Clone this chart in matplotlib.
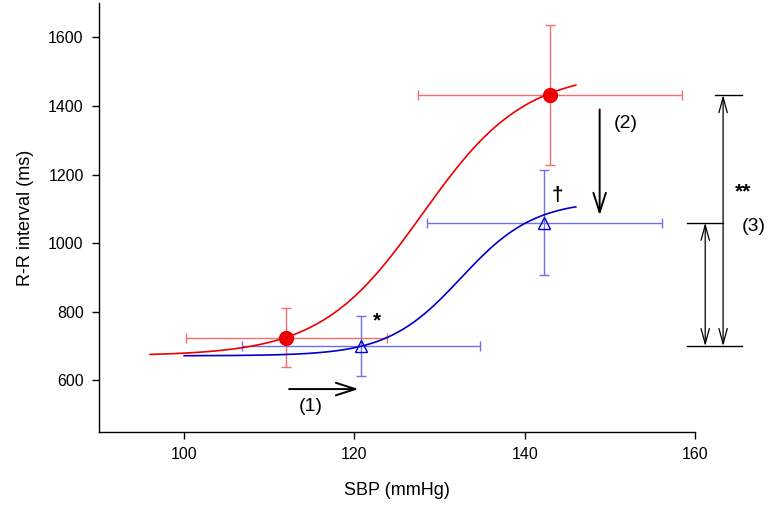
import numpy as np
import matplotlib
matplotlib.use("Agg")
import matplotlib.pyplot as plt
from matplotlib.patches import FancyArrowPatch

plt.rcParams['font.family'] = ['Liberation Sans', 'DejaVu Sans']

# Data (mean +/- SD)
red_x = [112, 143]
red_y = [725, 1432]
red_xerr = [11.8, 15.5]
red_yerr = [86, 203]

blue_x = [120.8, 142.3]
blue_y = [700, 1060]
blue_xerr = [14.0, 13.8]
blue_yerr = [88, 153]

# fitted sigmoid parameters: (min, max, x50, slope, x range)
red_fit = dict(lo=672, hi=1500, x50=128.0, s=6.0, x0=96, x1=146)
blue_fit = dict(lo=672, hi=1125, x50=132.5, s=4.3, x0=100, x1=146)

xticks = [100, 120, 140, 160]
yticks = [600, 800, 1000, 1200, 1400, 1600]


def sigmoid(p):
    x = np.linspace(p['x0'], p['x1'], 300)
    y = p['lo'] + (p['hi'] - p['lo']) / (1 + np.exp(-(x - p['x50']) / p['s']))
    return x, y


fig = plt.figure(figsize=(7.7, 5.07), dpi=100)
ax = fig.add_axes([0.1286, 0.148, 0.7740, 0.846])

ax.set_xlim(90, 160)
ax.set_ylim(450, 1700)

red_c = '#ee0000'
blue_c = '#0000cc'
red_e = '#f07070'
blue_e = '#7070e8'

xr, yr = sigmoid(red_fit)
xb, yb = sigmoid(blue_fit)

ax.errorbar(red_x, red_y, xerr=red_xerr, yerr=red_yerr, fmt='none',
            ecolor=red_e, elinewidth=1.0, capsize=3.5, capthick=1.0, zorder=2)
ax.errorbar(blue_x, blue_y, xerr=blue_xerr, yerr=blue_yerr, fmt='none',
            ecolor=blue_e, elinewidth=1.0, capsize=3.5, capthick=1.0, zorder=2)
ax.plot(xr, yr, color=red_c, lw=1.2, zorder=3)
ax.plot(xb, yb, color=blue_c, lw=1.2, zorder=3)
ax.plot(red_x, red_y, 'o', color=red_c, ms=10, zorder=4)
ax.plot(blue_x, blue_y, '^', mfc='none', mec=blue_c, ms=9, mew=1.0, zorder=4)

ax.set_xticks(xticks)
ax.set_yticks(yticks)
ax.tick_params(direction='out', length=5, width=1, labelsize=11.5, pad=6)
for s in ['top', 'right']:
    ax.spines[s].set_visible(False)
for s in ['left', 'bottom']:
    ax.spines[s].set_linewidth(1.0)

ax.set_xlabel('SBP (mmHg)', fontsize=13, labelpad=14)
ax.set_ylabel('R-R interval (ms)', fontsize=13, labelpad=10)

# Annotation (1)
a1 = FancyArrowPatch((red_x[0], 575), (blue_x[0], 575),
                     arrowstyle='->,head_length=1.4,head_width=0.45',
                     mutation_scale=10, lw=1.4, color='black')
ax.add_patch(a1)
ax.text(114.9, 525, '(1)', fontsize=14, ha='center', va='center')

# Annotation (2)
a2 = FancyArrowPatch((148.8, 1398), (148.8, 1073),
                     arrowstyle='->,head_length=1.4,head_width=0.45',
                     mutation_scale=10, lw=1.4, color='black')
ax.add_patch(a2)
ax.text(151.9, 1349, '(2)', fontsize=14, ha='center', va='center')

# Significance marks
ax.text(122.7, 773, '*', fontsize=15, ha='center', va='center', fontweight='bold')
ax.text(143.9, 1140, '†', fontsize=15, ha='center', va='center', fontweight='bold')

# Bracket (3), outside the axes
top, mid, bot = red_y[1], blue_y[1], blue_y[0]
ax.plot([162.35, 165.5], [top, top], color='black', lw=1.0, clip_on=False)
ax.plot([159.06, 163.3], [mid, mid], color='black', lw=1.0, clip_on=False)
ax.plot([159.06, 165.5], [bot, bot], color='black', lw=1.0, clip_on=False)
for xv, y0 in [(163.3, top), (161.2, mid)]:
    p = FancyArrowPatch((xv, y0), (xv, bot),
                        arrowstyle='<->,head_length=1.1,head_width=0.3',
                        mutation_scale=10, lw=0.9, color='black',
                        shrinkA=0, shrinkB=0, clip_on=False)
    ax.add_patch(p)
ax.text(165.6, 1150, '**', fontsize=15, ha='center', va='center',
        fontweight='bold', clip_on=False)
ax.text(166.9, 1050, '(3)', fontsize=14, ha='center', va='center', clip_on=False)

fig.savefig('out.png', dpi=100)
